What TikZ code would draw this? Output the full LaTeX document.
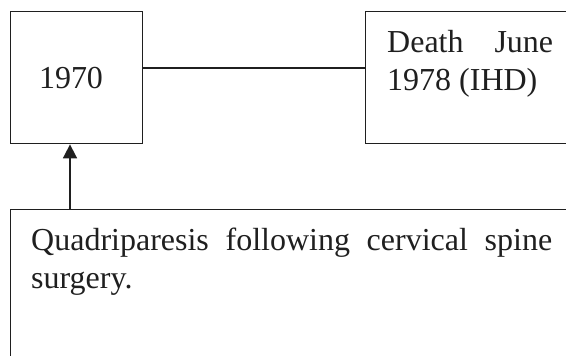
\documentclass[tikz,border=0pt]{standalone}
\usepackage{fontspec}
\setmainfont{Liberation Serif}
\usetikzlibrary{arrows.meta}
\hyphenpenalty=10000
\exhyphenpenalty=10000
\tikzset{
  boxshape/.style={draw=black!88, line width=1.4pt, rectangle, inner sep=0pt},
  txt/.style={inner sep=0pt, font=\fontsize{32}{38}\selectfont, text=black!88},
  link/.style={draw=black!88, line width=1.4pt},
}
\begin{document}
\begin{tikzpicture}[x=1pt,y=-1pt]
\useasboundingbox (0,0) rectangle (566,356);
\clip (0,0) rectangle (566,356);
% boxes
\node[boxshape, anchor=north west, minimum width=132.5pt, minimum height=132pt] (y1970) at (9.5,11) {};
\node[txt] (t1970) at (71,78) {1970};
\node[boxshape, anchor=north west, minimum width=240pt, minimum height=132pt] (death) at (365,11) {};
\node[txt, anchor=north west, text width=166pt, align=justify] (tdeath) at (387,30) {Death June 1978 (IHD)};
\node[boxshape, anchor=north west, minimum width=600pt, minimum height=200pt] (quad) at (9.5,209) {};
\node[txt, anchor=north west, text width=521pt, align=justify] (tquad) at (31,228) {Quadriparesis following cervical spine surgery.};
% connectors
\draw[link] (y1970.east |- 0,68) -- (death.west |- 0,68);
\draw[link, line width=1.7pt, -{Triangle[length=14pt,width=14pt]}] (quad.north -| 70,0) -- (y1970.south -| 70,0);
\end{tikzpicture}
\end{document}
